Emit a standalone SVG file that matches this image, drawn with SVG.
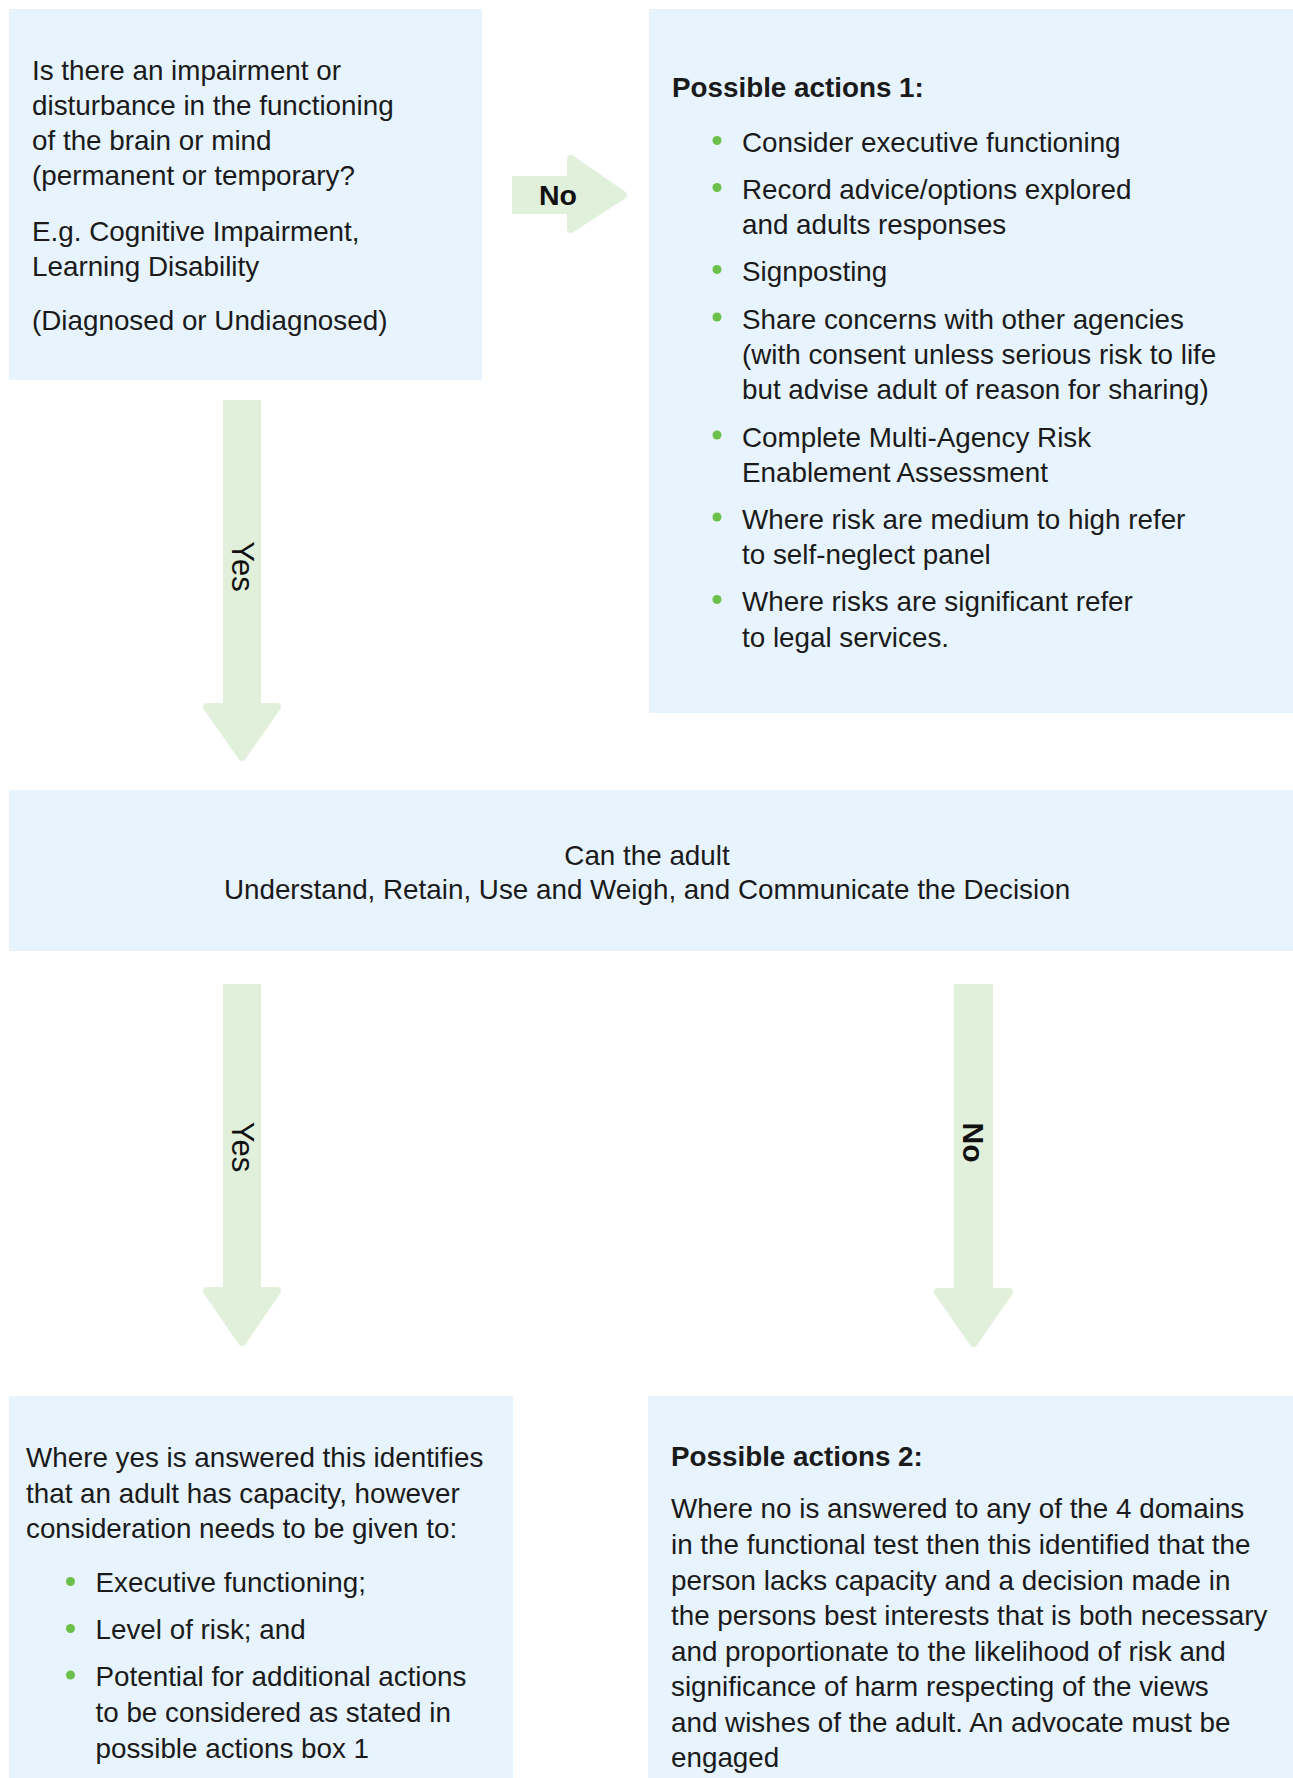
<svg xmlns="http://www.w3.org/2000/svg" width="1293" height="1778" viewBox="0 0 1293 1778">
<style>
.box{fill:#e7f4fd}
.arr{fill:#e1f0da}
.head{fill:#e1f0da;stroke:#e1f0da;stroke-width:8;stroke-linejoin:round}
.t{font-family:"Liberation Sans",Arial,Helvetica,sans-serif;font-size:27.8px;fill:#1a1a1a}
.b{font-weight:bold}
.c{text-anchor:middle}
.lbl{font-family:"Liberation Sans",Arial,Helvetica,sans-serif;font-weight:bold;fill:#111;text-anchor:middle}
.lblr{font-family:"Liberation Sans",Arial,Helvetica,sans-serif;fill:#111;text-anchor:middle}
.dot{fill:#6cc04a}
</style>
<rect width="1293" height="1778" fill="#ffffff"/>

<g id="connectors">
  <g id="arrow-no-1">
    <rect class="arr" x="512" y="176" width="60" height="38"/>
    <polygon class="head" points="571,159 571,229 623,195"/>
    <text class="lbl" x="558" y="205" font-size="28.5">No</text>
  </g>
  <g id="arrow-yes-1">
    <rect class="arr" x="223" y="400" width="38" height="306"/>
    <polygon class="head" points="207,707 277,707 242,757"/>
    <text class="lblr" transform="translate(242,566.5) rotate(90)" x="0" y="10.5" font-size="31">Yes</text>
  </g>
  <g id="arrow-yes-2">
    <rect class="arr" x="223" y="984" width="38" height="306"/>
    <polygon class="head" points="207,1291 277,1291 242,1342"/>
    <text class="lblr" transform="translate(242,1147) rotate(90)" x="0" y="10.5" font-size="31">Yes</text>
  </g>
  <g id="arrow-no-2">
    <rect class="arr" x="954" y="984" width="39" height="306"/>
    <polygon class="head" points="938,1292 1009,1292 973.5,1343"/>
    <text class="lbl" transform="translate(973.5,1142.5) rotate(90)" x="0" y="10.5" font-size="30">No</text>
  </g>
</g>

<g id="node-question">
  <rect class="box" x="9" y="9" width="473" height="371"/>
  <text class="t" x="32" y="80">Is there an impairment or</text>
  <text class="t" x="32" y="114.5">disturbance in the functioning</text>
  <text class="t" x="32" y="149.5">of the brain or mind</text>
  <text class="t" x="32" y="184.5">(permanent or temporary?</text>
  <text class="t" x="32" y="240.5">E.g. Cognitive Impairment,</text>
  <text class="t" x="32" y="276">Learning Disability</text>
  <text class="t" x="32" y="330">(Diagnosed or Undiagnosed)</text>
</g>

<g id="node-actions-1">
  <rect class="box" x="649" y="9" width="644" height="704"/>
  <text class="t b" x="672" y="97">Possible actions 1:</text>
  <circle class="dot" cx="717" cy="140.5" r="4.5"/>
  <text class="t" x="742" y="151.7">Consider executive functioning</text>
  <circle class="dot" cx="717" cy="187.5" r="4.5"/>
  <text class="t" x="742" y="199">Record advice/options explored</text>
  <text class="t" x="742" y="233.5">and adults responses</text>
  <circle class="dot" cx="717" cy="269.5" r="4.5"/>
  <text class="t" x="742" y="281">Signposting</text>
  <circle class="dot" cx="717" cy="317" r="4.5"/>
  <text class="t" x="742" y="328.5">Share concerns with other agencies</text>
  <text class="t" x="742" y="363.5">(with consent unless serious risk to life</text>
  <text class="t" x="742" y="398.5">but advise adult of reason for sharing)</text>
  <circle class="dot" cx="717" cy="435" r="4.5"/>
  <text class="t" x="742" y="446.7">Complete Multi-Agency Risk</text>
  <text class="t" x="742" y="481.7">Enablement Assessment</text>
  <circle class="dot" cx="717" cy="517" r="4.5"/>
  <text class="t" x="742" y="528.5">Where risk are medium to high refer</text>
  <text class="t" x="742" y="564">to self-neglect panel</text>
  <circle class="dot" cx="717" cy="599.5" r="4.5"/>
  <text class="t" x="742" y="611">Where risks are significant refer</text>
  <text class="t" x="742" y="646.5">to legal services.</text>
</g>

<g id="node-functional-test">
  <rect class="box" x="9" y="790" width="1284" height="161"/>
  <text class="t c" x="647" y="864.5">Can the adult</text>
  <text class="t c" x="647" y="899">Understand, Retain, Use and Weigh, and Communicate the Decision</text>
</g>

<g id="node-has-capacity">
  <rect class="box" x="9" y="1396" width="504" height="382"/>
  <text class="t" x="26" y="1467.3">Where yes is answered this identifies</text>
  <text class="t" x="26" y="1502.7">that an adult has capacity, however</text>
  <text class="t" x="26" y="1537.5">consideration needs to be given to:</text>
  <circle class="dot" cx="70.5" cy="1581.5" r="4.5"/>
  <text class="t" x="95.5" y="1592.3">Executive functioning;</text>
  <circle class="dot" cx="70.5" cy="1628.5" r="4.5"/>
  <text class="t" x="95.5" y="1639.3">Level of risk; and</text>
  <circle class="dot" cx="70.5" cy="1675" r="4.5"/>
  <text class="t" x="95.5" y="1686">Potential for additional actions</text>
  <text class="t" x="95.5" y="1722.3">to be considered as stated in</text>
  <text class="t" x="95.5" y="1757.7">possible actions box 1</text>
</g>

<g id="node-actions-2">
  <rect class="box" x="648" y="1396" width="645" height="382"/>
  <text class="t b" x="671" y="1466">Possible actions 2:</text>
  <text class="t" x="671" y="1518.3">Where no is answered to any of the 4 domains</text>
  <text class="t" x="671" y="1554">in the functional test then this identified that the</text>
  <text class="t" x="671" y="1589.7">person lacks capacity and a decision made in</text>
  <text class="t" x="671" y="1625.3">the persons best interests that is both necessary</text>
  <text class="t" x="671" y="1660.7">and proportionate to the likelihood of risk and</text>
  <text class="t" x="671" y="1696.3">significance of harm respecting of the views</text>
  <text class="t" x="671" y="1731.7">and wishes of the adult. An advocate must be</text>
  <text class="t" x="671" y="1767.3">engaged</text>
</g>
</svg>
